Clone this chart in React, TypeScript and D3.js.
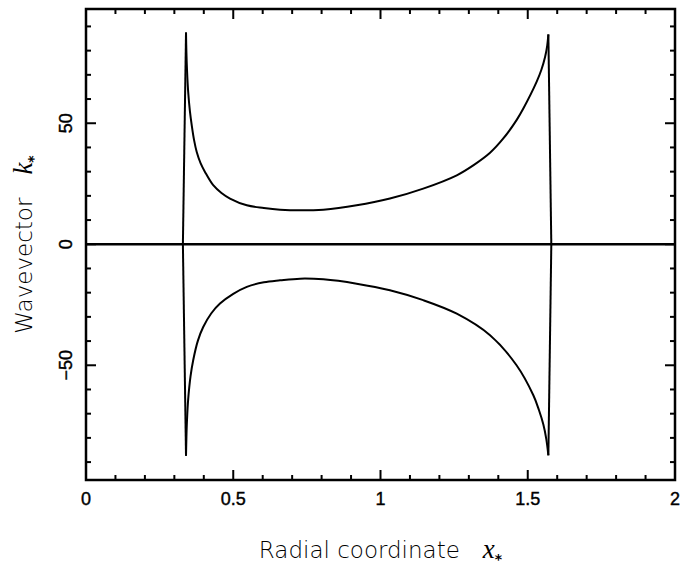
import { useEffect, useRef } from "react";
import * as d3 from "d3";

// верхняя ветвь k(x)
const upperX = [0.329, 0.3396, 0.341, 0.343, 0.347, 0.353, 0.359, 0.367, 0.376, 0.389, 0.404, 0.432, 0.46, 0.489, 0.546, 0.604, 0.659, 0.727, 0.806, 0.919, 1.032, 1.145, 1.259, 1.315, 1.372, 1.417, 1.462, 1.485, 1.53, 1.546, 1.559, 1.566, 1.57, 1.58];
const upperK = [0, 87.5, 79.0, 72.0, 62.9, 54.8, 49.2, 43.0, 38.1, 33.5, 29.9, 24.4, 21.2, 18.9, 16.1, 15.0, 14.3, 14.0, 14.3, 16.1, 18.9, 23.0, 28.5, 32.6, 37.8, 43.7, 51.3, 56.1, 67.1, 72.0, 77.5, 82.0, 86.7, 0];

// нижняя ветвь
const lowerX = [0.329, 0.3396, 0.341, 0.343, 0.347, 0.355, 0.364, 0.38, 0.398, 0.425, 0.455, 0.5, 0.546, 0.604, 0.659, 0.727, 0.806, 0.919, 1.032, 1.145, 1.259, 1.372, 1.462, 1.519, 1.538, 1.553, 1.563, 1.57, 1.58];
const lowerK = [0, -87.4, -79.5, -72.5, -64.0, -54.5, -47.9, -39.8, -34.2, -28.6, -24.5, -20.5, -17.6, -15.7, -14.9, -14.2, -14.5, -16.3, -19.0, -23.1, -28.7, -37.6, -50.0, -62.4, -68.5, -74.5, -80.5, -87.2, 0];

const zeroX = [0, 2];
const zeroK = [0, 0];

const xTicks = [0, 0.5, 1, 1.5, 2];
const xTickLabels = ["0", "0.5", "1", "1.5", "2"];
const yTicks = [-50, 0, 50];
const yTickLabels = ["−50", "0", "50"];

const App = () => {
  const svgRef = useRef(null);

  useEffect(() => {
    const W = 693;
    const H = 567;
    const margin = { top: 9, right: 18, bottom: 87, left: 86 };
    const x0 = margin.left;
    const x1 = W - margin.right;
    const y0 = margin.top;
    const y1 = H - margin.bottom;

    const svg = d3.select(svgRef.current);
    svg.selectAll("*").remove();
    svg.attr("width", W).attr("height", H);

    const x = d3.scaleLinear().domain([0, 2]).range([x0, x1]);
    const y = d3.scaleLinear().domain([-97.4, 97.2]).range([y1, y0]);

    // рамка
    svg
      .append("rect")
      .attr("x", x0)
      .attr("y", y0)
      .attr("width", x1 - x0)
      .attr("height", y1 - y0)
      .attr("fill", "none")
      .attr("stroke", "#000")
      .attr("stroke-width", 2.5);

    // засечки по X (внутрь, снизу и сверху)
    const xMinor = d3.range(0, 2.0001, 0.1);
    const ticks = svg.append("g").attr("stroke", "#000").attr("stroke-width", 2);
    xMinor.forEach((v) => {
      const major = Math.abs(v * 2 - Math.round(v * 2)) < 1e-6;
      const len = major ? 10 : 5;
      ticks.append("line").attr("x1", x(v)).attr("x2", x(v)).attr("y1", y1).attr("y2", y1 - len);
      ticks.append("line").attr("x1", x(v)).attr("x2", x(v)).attr("y1", y0).attr("y2", y0 + len);
    });

    // засечки по Y
    const yMinor = d3.range(-90, 91, 10);
    yMinor.forEach((v) => {
      const len = v % 50 === 0 ? 10 : 5;
      ticks.append("line").attr("y1", y(v)).attr("y2", y(v)).attr("x1", x0).attr("x2", x0 + len);
      ticks.append("line").attr("y1", y(v)).attr("y2", y(v)).attr("x1", x1).attr("x2", x1 - len);
    });

    // подписи засечек
    svg
      .append("g")
      .selectAll("text")
      .data(xTicks)
      .enter()
      .append("text")
      .attr("x", (d) => x(d))
      .attr("y", y1 + 25)
      .attr("text-anchor", "middle")
      .attr("font-family", "Liberation Sans, Arial, sans-serif")
      .attr("font-size", 18)
      .attr("stroke", "#000")
      .attr("stroke-width", 0.4)
      .text((d, i) => xTickLabels[i]);

    svg
      .append("g")
      .selectAll("text")
      .data(yTicks)
      .enter()
      .append("text")
      .attr("transform", (d) => `translate(${x0 - 14},${y(d)}) rotate(-90)`)
      .attr("text-anchor", "middle")
      .attr("font-family", "Liberation Sans, Arial, sans-serif")
      .attr("font-size", 18)
      .attr("stroke", "#000")
      .attr("stroke-width", 0.4)
      .text((d, i) => yTickLabels[i]);

    // линии
    const line = d3
      .line()
      .x((d) => x(d[0]))
      .y((d) => y(d[1]));
    const smooth = d3
      .line()
      .x((d) => x(d[0]))
      .y((d) => y(d[1]))
      .curve(d3.curveCatmullRom.alpha(0.5));

    const drawBranch = (xs, ks) => {
      const pts = xs.map((v, i) => [v, ks[i]]);
      const n = pts.length;
      // вертикальные участки у точек поворота — прямые, сама ветвь — гладкая
      const g = svg.append("g").attr("fill", "none").attr("stroke", "#000").attr("stroke-width", 2).attr("stroke-linejoin", "round");
      g.append("path").attr("d", line(pts.slice(0, 2)));
      g.append("path").attr("d", smooth(pts.slice(1, n - 1)));
      g.append("path").attr("d", line(pts.slice(n - 2)));
    };

    drawBranch(upperX, upperK);
    drawBranch(lowerX, lowerK);

    svg
      .append("path")
      .attr("d", line(zeroX.map((v, i) => [v, zeroK[i]])))
      .attr("fill", "none")
      .attr("stroke", "#000")
      .attr("stroke-width", 2.5);

    // подпись оси X
    const xt = svg
      .append("text")
      .attr("x", (x0 + x1) / 2)
      .attr("y", 558)
      .attr("text-anchor", "middle")
      .attr("font-family", "DejaVu Sans, sans-serif")
      .attr("font-weight", 200)
      .attr("font-size", 23)
      .attr("fill", "#000");
    xt.append("tspan").text("Radial coordinate\u2002\u2002");
    xt.append("tspan").attr("font-family", "Liberation Serif, serif").attr("font-style", "italic").attr("font-weight", 400).attr("font-size", 27).text("x");
    xt.append("tspan").attr("font-family", "DejaVu Sans, sans-serif").attr("font-weight", 700).attr("font-size", 14).attr("dy", 6).text("*");

    // подпись оси Y
    const yt = svg
      .append("text")
      .attr("transform", `translate(32,${(y0 + y1) / 2}) rotate(-90)`)
      .attr("text-anchor", "middle")
      .attr("font-family", "DejaVu Sans, sans-serif")
      .attr("font-weight", 200)
      .attr("font-size", 23)
      .attr("fill", "#000");
    yt.append("tspan").text("Wavevector\u2002\u2002");
    yt.append("tspan").attr("font-family", "Liberation Serif, serif").attr("font-style", "italic").attr("font-weight", 400).attr("font-size", 27).text("k");
    yt.append("tspan").attr("font-family", "DejaVu Sans, sans-serif").attr("font-weight", 700).attr("font-size", 14).attr("dy", 6).text("*");
  }, []);

  return (
    <div style={{ position: "absolute", left: 0, top: 0 }}>
      <svg ref={svgRef} style={{ display: "block" }}></svg>
    </div>
  );
};

export default App;
